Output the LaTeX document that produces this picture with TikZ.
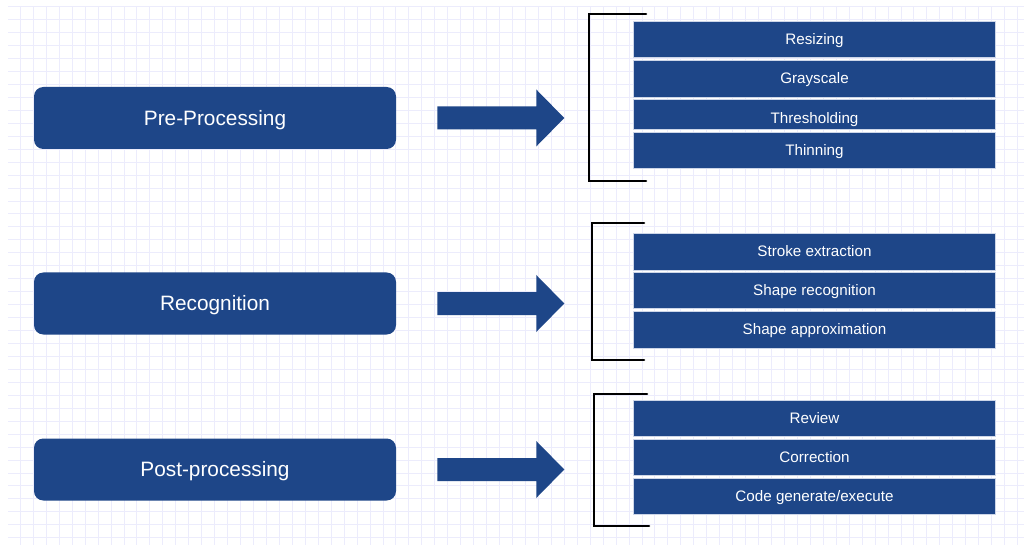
\documentclass[tikz,border=0pt]{standalone}
\usepackage{fontspec}
\setmainfont{Liberation Sans}
\usetikzlibrary{calc}
\definecolor{boxblue}{RGB}{30,70,136}
\definecolor{gridline}{RGB}{236,236,252}
\definecolor{boxedge}{RGB}{205,214,232}

\begin{document}
\begin{tikzpicture}[x=0.75pt, y=-0.75pt,
    stage/.style={fill=boxblue, rounded corners=7pt, text=white,
      font=\fontsize{15.6}{18}\selectfont, minimum width=271.5pt,
      minimum height=46.5pt, inner sep=0pt, text height=11.2pt, text depth=0pt},
    substep/.style={fill=boxblue, draw=boxedge, line width=0.6pt, text=white,
      font=\fontsize{11.4}{13}\selectfont, minimum width=272pt,
      minimum height=27pt, inner sep=0pt, text height=8.2pt, text depth=0pt},
    bracket/.style={line width=1.9pt, line cap=round}]
      \useasboundingbox (0,0) rectangle (1024,545);
      \fill [white] (0,0) rectangle (1024,545);
      \foreach \x in {20.3,33.25,...,1024} \draw [gridline, line width=0.6pt] (\x,6.7) -- (\x,545);
      \foreach \y in {6.7,19.65,...,545} \draw [gridline, line width=0.6pt] (8,\y) -- (1024,\y);
%     stages
      \node [stage] (pre) at (215,118) {Pre-Processing};
      \node [stage] (rec) at (215,303.5) {Recognition};
      \node [stage] (post) at (215,469.5) {Post-processing};
%     steps of each stage
      \node [substep] (resize) at (814.5,39) {Resizing};
      \node [substep, minimum height=27.75pt] (gray) at (814.5,78.5) {Grayscale};
      \node [substep, minimum height=22.5pt, text height=13.4pt] (thresh) at (814.5,114.5) {Thresholding};
      \node [substep] (thin) at (814.5,150) {Thinning};
      \node [substep, minimum height=27.75pt] (stroke) at (814.5,251.5) {Stroke extraction};
      \node [substep] (shaperec) at (814.5,290) {Shape recognition};
      \node [substep, minimum height=27.75pt] (approx) at (814.5,329.5) {Shape approximation};
      \node [substep] (review) at (814.5,418) {Review};
      \node [substep] (correct) at (814.5,457) {Correction};
      \node [substep] (code) at (814.5,496) {Code generate/execute};
%     block arrows
      \foreach \n in {pre,rec,post}
        \fill [boxblue] ($(\n.east)+(41,-11.5)$) -- ($(\n.east)+(140,-11.5)$)
          -- ($(\n.east)+(140,-28.5)$) -- ($(\n.east)+(168,0)$)
          -- ($(\n.east)+(140,28.5)$) -- ($(\n.east)+(140,11.5)$)
          -- ($(\n.east)+(41,11.5)$) -- cycle;
%     brackets
      \draw [bracket] (646,14) -- (589,14) -- (589,181) -- (646,181);
      \draw [bracket] (644,223) -- (592,223) -- (592,360) -- (644,360);
      \draw [bracket] (647,394) -- (594,394) -- (594,526) -- (649,526);
\end{tikzpicture}
\end{document}
